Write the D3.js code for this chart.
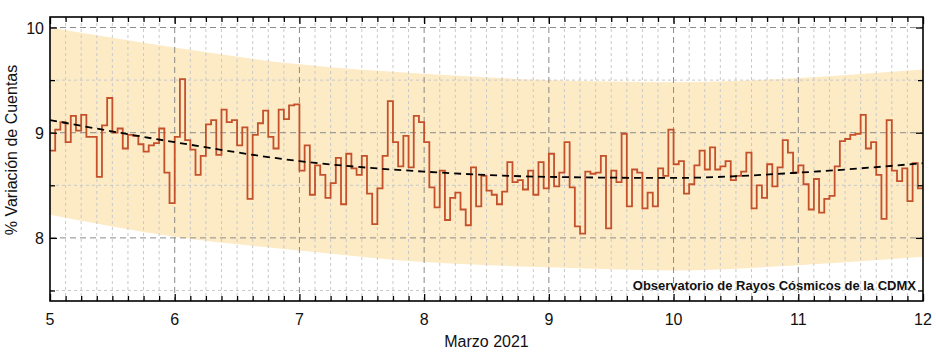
<!DOCTYPE html>
<html>
<head>
<meta charset="utf-8">
<script src="https://cdn.jsdelivr.net/npm/d3@7"></script>
<style>
  html, body { margin: 0; padding: 0; background: #fff; }
  svg { display: block; font-family: "Liberation Sans", Arial, sans-serif; }
</style>
</head>
<body>
<svg id="chart" width="936" height="355"></svg>
<script>
// ---- Data (hourly values, 5–12 March 2021) ----
const startDay = 5;
const hourlyDay5  = [8.83, 9.03, 9.10, 8.91, 9.16, 9.02, 9.17, 8.96, 8.96, 8.58, 9.07, 9.33, 9.00, 9.04, 8.85, 8.98, 8.97, 8.89, 8.82, 8.88, 8.90, 9.04, 8.62, 8.33];
const hourlyDay6  = [8.96, 9.51, 8.93, 8.84, 8.60, 8.78, 9.08, 9.12, 8.79, 9.22, 9.10, 9.12, 8.88, 9.05, 8.37, 8.98, 9.09, 9.21, 8.96, 8.85, 9.22, 9.13, 9.26, 9.27];
const hourlyDay7  = [8.64, 8.88, 8.41, 8.69, 8.60, 8.38, 8.52, 8.76, 8.32, 8.80, 8.66, 8.60, 8.78, 8.42, 8.13, 8.47, 8.78, 9.30, 8.91, 8.68, 8.97, 8.67, 9.16, 9.10];
const hourlyDay8  = [8.91, 8.48, 8.29, 8.64, 8.17, 8.38, 8.43, 8.27, 8.12, 8.67, 8.30, 8.59, 8.45, 8.41, 8.32, 8.44, 8.72, 8.53, 8.55, 8.46, 8.64, 8.41, 8.72, 8.47];
const hourlyDay9  = [8.80, 8.49, 8.62, 8.91, 8.48, 8.11, 8.04, 8.63, 8.61, 8.62, 8.78, 8.09, 8.64, 8.53, 8.99, 8.30, 8.65, 8.62, 8.28, 8.43, 8.30, 8.66, 8.59, 9.03];
const hourlyDay10 = [8.70, 8.73, 8.42, 8.51, 8.69, 8.83, 8.65, 8.86, 8.65, 8.68, 8.73, 8.55, 8.59, 8.63, 8.81, 8.28, 8.50, 8.38, 8.70, 8.49, 8.67, 8.93, 8.81, 8.62];
const hourlyDay11 = [8.69, 8.51, 8.27, 8.56, 8.24, 8.37, 8.40, 8.68, 8.92, 8.94, 8.98, 8.99, 9.17, 8.85, 8.91, 8.60, 8.18, 9.12, 8.64, 8.54, 8.66, 8.35, 8.71, 8.47];

// Trend and band, read at each day
const bandDays  = [5, 6, 7, 8, 9, 10, 11, 12];
const trend     = [9.12, 8.91, 8.73, 8.63, 8.58, 8.57, 8.62, 8.71];
const bandUpper = [10.00, 9.81, 9.65, 9.56, 9.50, 9.48, 9.52, 9.60];
const bandLower = [8.22, 8.01, 7.88, 7.77, 7.72, 7.69, 7.74, 7.82];

// Axis ticks
const xTickLabels = [5, 6, 7, 8, 9, 10, 11, 12];
const yTickLabels = [8, 9, 10];
const yMinorTicks = [7.5, 8, 8.5, 9, 9.5, 10];

const xLabel = "Marzo 2021";
const yLabel = "% Variación de Cuentas";
const note = "Observatorio de Rayos Cósmicos de la CDMX";

// ---- Layout ----
const W = 936, H = 355;
const m = { left: 50, right: 13, top: 17, bottom: 54 };
const svg = d3.select("#chart");

const x = d3.scaleLinear().domain([5, 12]).range([m.left, W - m.right]);
const y = d3.scaleLinear().domain([7.4, 10.1]).range([H - m.bottom, m.top]);

const hourly = [].concat(hourlyDay5, hourlyDay6, hourlyDay7, hourlyDay8, hourlyDay9, hourlyDay10, hourlyDay11);
const stepData = hourly.map((v, i) => ({ t: startDay + i / 24, v }));
stepData.push({ t: startDay + hourly.length / 24, v: hourly[hourly.length - 1] });

const clip = svg.append("defs").append("clipPath").attr("id", "plotclip")
  .append("rect").attr("x", m.left).attr("y", m.top)
  .attr("width", W - m.left - m.right).attr("height", H - m.top - m.bottom);

const plot = svg.append("g").attr("clip-path", "url(#plotclip)");

// Band
const bandData = bandDays.map((d, i) => ({ t: d, lo: bandLower[i], hi: bandUpper[i] }));
plot.append("path")
  .datum(bandData)
  .attr("fill", "#fdebc6")
  .attr("d", d3.area().curve(d3.curveMonotoneX)
    .x(d => x(d.t)).y0(d => y(d.lo)).y1(d => y(d.hi)));

// Grid
const minorX = d3.range(0, 57).map(i => 5 + i / 8).filter(v => Math.abs(v - Math.round(v)) > 1e-6);
const majorX = d3.range(6, 12);
const grid = plot.append("g");
grid.selectAll(".gxm").data(minorX).enter().append("line")
  .attr("x1", d => x(d)).attr("x2", d => x(d))
  .attr("y1", m.top).attr("y2", H - m.bottom)
  .attr("stroke", "#c9c9c9").attr("stroke-width", 1).attr("stroke-dasharray", "3,3");
grid.selectAll(".gym").data([7.5, 8.5, 9.5]).enter().append("line")
  .attr("x1", m.left).attr("x2", W - m.right)
  .attr("y1", d => y(d)).attr("y2", d => y(d))
  .attr("stroke", "#c9c9c9").attr("stroke-width", 1).attr("stroke-dasharray", "3,3");
grid.selectAll(".gxM").data(majorX).enter().append("line")
  .attr("x1", d => x(d)).attr("x2", d => x(d))
  .attr("y1", m.top).attr("y2", H - m.bottom)
  .attr("stroke", "#8a8a8a").attr("stroke-width", 1).attr("stroke-dasharray", "6,4");
grid.selectAll(".gyM").data([8, 9, 10]).enter().append("line")
  .attr("x1", m.left).attr("x2", W - m.right)
  .attr("y1", d => y(d)).attr("y2", d => y(d))
  .attr("stroke", "#8a8a8a").attr("stroke-width", 1).attr("stroke-dasharray", "6,4");

// Step line
plot.append("path")
  .datum(stepData)
  .attr("fill", "none")
  .attr("stroke", "#c4502c")
  .attr("stroke-width", 1.8)
  .attr("d", d3.line().curve(d3.curveStepAfter).x(d => x(d.t)).y(d => y(d.v)));

// Trend
const trendData = bandDays.map((d, i) => ({ t: d, v: trend[i] }));
plot.append("path")
  .datum(trendData)
  .attr("fill", "none")
  .attr("stroke", "#000")
  .attr("stroke-width", 1.8)
  .attr("stroke-dasharray", "7,5")
  .attr("d", d3.line().curve(d3.curveMonotoneX).x(d => x(d.t)).y(d => y(d.v)));

// Axes (inward ticks on all sides)
const tickLenMinor = 5, tickLenMajor = 7;
const allX = d3.range(0, 57).map(i => 5 + i / 8);
const isMajor = v => Math.abs(v - Math.round(v)) < 1e-6;

const bottomAxis = d3.axisBottom(x).tickValues(allX).tickSize(0).tickFormat("");
const axB = svg.append("g").attr("transform", `translate(0,${H - m.bottom})`).call(bottomAxis);
axB.select(".domain").remove();
axB.selectAll(".tick line").attr("y2", d => -(isMajor(d) ? tickLenMajor : tickLenMinor)).attr("stroke", "#000").attr("stroke-width", 1.3);

const topAxis = d3.axisTop(x).tickValues(allX).tickSize(0).tickFormat("");
const axT = svg.append("g").attr("transform", `translate(0,${m.top})`).call(topAxis);
axT.select(".domain").remove();
axT.selectAll(".tick line").attr("y2", d => (isMajor(d) ? tickLenMajor : tickLenMinor)).attr("stroke", "#000").attr("stroke-width", 1.3);

const leftAxis = d3.axisLeft(y).tickValues(yMinorTicks).tickSize(0).tickFormat("");
const axL = svg.append("g").attr("transform", `translate(${m.left},0)`).call(leftAxis);
axL.select(".domain").remove();
axL.selectAll(".tick line").attr("x2", d => (isMajor(d) ? tickLenMajor : tickLenMinor)).attr("stroke", "#000").attr("stroke-width", 1.3);

const rightAxis = d3.axisRight(y).tickValues(yMinorTicks).tickSize(0).tickFormat("");
const axR = svg.append("g").attr("transform", `translate(${W - m.right},0)`).call(rightAxis);
axR.select(".domain").remove();
axR.selectAll(".tick line").attr("x2", d => -(isMajor(d) ? tickLenMajor : tickLenMinor)).attr("stroke", "#000").attr("stroke-width", 1.3);

// Frame
svg.append("rect")
  .attr("x", m.left).attr("y", m.top)
  .attr("width", W - m.left - m.right).attr("height", H - m.top - m.bottom)
  .attr("fill", "none").attr("stroke", "#000").attr("stroke-width", 1.6);

// Tick labels
svg.append("g").selectAll("text").data(xTickLabels).enter().append("text")
  .attr("x", d => x(d)).attr("y", H - m.bottom + 24)
  .attr("text-anchor", "middle").attr("font-size", 16).attr("fill", "#111")
  .text(d => d);
svg.append("g").selectAll("text").data(yTickLabels).enter().append("text")
  .attr("x", m.left - 6).attr("y", d => y(d) + 6)
  .attr("text-anchor", "end").attr("font-size", 16).attr("fill", "#111")
  .text(d => d);

// Axis labels
svg.append("text")
  .attr("x", (m.left + W - m.right) / 2).attr("y", H - 8)
  .attr("text-anchor", "middle").attr("font-size", 16).attr("fill", "#111")
  .text(xLabel);
svg.append("text")
  .attr("transform", `translate(17,${150}) rotate(-90)`)
  .attr("text-anchor", "middle").attr("font-size", 16).attr("fill", "#111")
  .text(yLabel);

// Annotation
svg.append("text")
  .attr("x", W - m.right - 7).attr("y", H - m.bottom - 11)
  .attr("text-anchor", "end").attr("font-size", 13).attr("font-weight", "bold").attr("fill", "#111")
  .text(note);
</script>
</body>
</html>
